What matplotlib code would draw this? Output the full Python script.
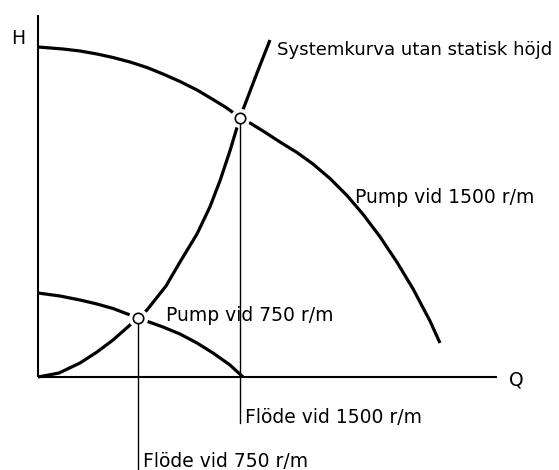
import matplotlib.pyplot as plt

# relative units, no scale shown on the chart
pump1500_q = [0, 12.5, 21, 29.5, 37.5, 46, 54.5, 62.5, 71, 79.5, 87.5, 94, 101,
              106, 112.5, 121, 129.5, 137.5, 146, 154.5, 162.5, 171, 179.5, 187.5, 196, 201]
pump1500_h = [132, 131.2, 130.4, 129.2, 127.8, 126, 123.8, 121.2, 118.2, 114.8, 111, 107.8, 103.8,
              101.6, 98.4, 94, 89.8, 85.2, 79.4, 72.6, 65.1, 56.1, 45.9, 35.3, 22.4, 13.6]

system_q = [0, 10.5, 21, 29.5, 37.5, 50, 54.5, 64, 71, 79.5, 86, 91, 96, 101, 109.5, 116]
system_h = [0, 1.6, 5.6, 10, 14.8, 23.6, 26.8, 36.4, 46, 57.2, 68.1, 78.5, 90.5, 103.8, 121.6, 134.8]

pump750_q = [0, 11, 21, 29.5, 37.5, 50, 62.5, 71, 79.5, 87.5, 96, 102.5]
pump750_h = [33.6, 32.4, 30.8, 29.2, 27.4, 23.6, 20, 17.2, 13.6, 9.6, 4.8, 0]

# operating points (1500 r/m, 750 r/m) and how far the flow lines drop
op_q = [101, 50]
op_h = [103.8, 23.6]
op_line_bottom = [-18.4, -38]

q_axis_end = 229.5
h_axis_end = 144.8

plt.rcParams['font.family'] = ['DejaVu Sans']

fig = plt.figure(figsize=(5.59, 4.70), dpi=100)
ax = fig.add_axes([0, 0, 1, 1])
ax.set_xlim(-19, 260.5)
ax.set_ylim(-37.2, 150.8)
ax.axis('off')

# axes
ax.plot([0, 0], [0, h_axis_end], color='black', lw=1.5, solid_capstyle='butt')
ax.plot([0, q_axis_end], [0, 0], color='black', lw=1.5, solid_capstyle='butt')

# curves
for q, h in [(pump1500_q, pump1500_h), (system_q, system_h), (pump750_q, pump750_h)]:
    ax.plot(q, h, color='black', lw=2.3, solid_capstyle='butt',
            solid_joinstyle='round', zorder=2)

# white gaps round the operating points
ax.plot(op_q, op_h, 'o', ms=13, color='white', mec='white', zorder=3)

# vertical flow lines
for q, h, b in zip(op_q, op_h, op_line_bottom):
    ax.plot([q, q], [h, b], color='black', lw=1.0, zorder=4)

ax.plot(op_q, op_h, 'o', ms=7.5, mfc='white', mec='black', mew=1.2, zorder=5)

fs = 13.5
ax.text(-10, 135.6, 'H', fontsize=fs, ha='center', va='center')
ax.text(239, -1.2, 'Q', fontsize=fs, ha='center', va='center')
ax.text(119.5, 128.8, 'Systemkurva utan statisk höjd', fontsize=13.1, ha='left', va='baseline')
ax.text(158.5, 69.6, 'Pump vid 1500 r/m', fontsize=fs, ha='left', va='baseline')
ax.text(64, 22.4, 'Pump vid 750 r/m', fontsize=fs, ha='left', va='baseline')
ax.text(103.5, -18.4, 'Flöde vid 1500 r/m', fontsize=fs, ha='left', va='baseline')
ax.text(52.5, -36, 'Flöde vid 750 r/m', fontsize=fs, ha='left', va='baseline')

fig.savefig('out.png', dpi=100, facecolor='white')
